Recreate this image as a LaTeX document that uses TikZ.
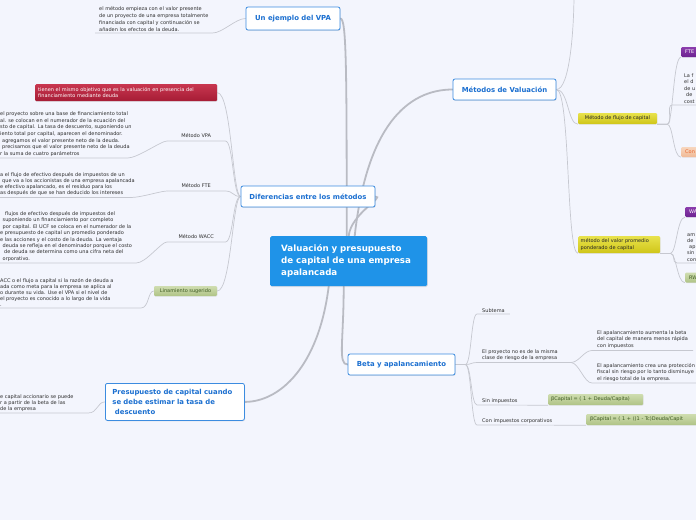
\documentclass[tikz,border=0pt]{standalone}
\usepackage{fontspec}
\setmainfont{DejaVu Sans}
\usetikzlibrary{shadows}
\pgfdeclarelayer{back}
\pgfdeclarelayer{lines}
\pgfsetlayers{back,lines,main}
\definecolor{bg}{HTML}{F3F5FD}
\definecolor{cblue}{HTML}{1F93E8}
\definecolor{tblue}{HTML}{1B6FD0}
\definecolor{bblue}{HTML}{3C8CE0}
\definecolor{lgray}{HTML}{C6C8D0}
\definecolor{mgray}{HTML}{B9BBC3}
\definecolor{txt}{HTML}{2E2E2E}
\definecolor{redA}{HTML}{C8364F}
\definecolor{redB}{HTML}{A61C35}
\definecolor{yelA}{HTML}{E8E24C}
\definecolor{yelB}{HTML}{CFC518}
\definecolor{purA}{HTML}{8B3DAD}
\definecolor{purB}{HTML}{6D2391}
\definecolor{grnA}{HTML}{CFDDB0}
\definecolor{grnB}{HTML}{AFC386}
\definecolor{grnT}{HTML}{3E5A22}
\definecolor{orA}{HTML}{F7D6BE}
\definecolor{orB}{HTML}{F0B996}
\definecolor{orT}{HTML}{E8642A}
\tikzset{
  leaf/.style={font=\fontsize{5.0}{#1}\selectfont, text=txt, align=left, inner xsep=4pt, inner ysep=1.5pt},
  leaf/.default=6.5,
  conn/.style={draw=lgray, line width=0.7pt},
  mainconn/.style={draw=mgray, line width=1.8pt, line cap=round},
  topic/.style={draw=bblue, line width=0.8pt, fill=white, rounded corners=2pt, text=tblue,
    font=\fontsize{6.9}{10}\selectfont\bfseries, inner sep=0pt,
    drop shadow={opacity=0.18, shadow xshift=0.6pt, shadow yshift=-0.9pt}},
  central/.style={fill=cblue, rounded corners=1.5pt, text=white,
    font=\fontsize{8.7}{12}\selectfont\bfseries, align=left, inner xsep=11pt, inner ysep=0pt,
    drop shadow={opacity=0.2, shadow xshift=0.6pt, shadow yshift=-0.9pt}},
  tag/.style={rounded corners=1.2pt, font=\fontsize{5.0}{6.5}\selectfont, inner xsep=4pt, inner ysep=0pt,
    drop shadow={opacity=0.15, shadow xshift=0.4pt, shadow yshift=-0.6pt}},
  redtag/.style={tag, top color=redA, bottom color=redB, text=white},
  yeltag/.style={tag, top color=yelA, bottom color=yelB, text=black!85},
  purtag/.style={tag, top color=purA, bottom color=purB, text=white},
  grntag/.style={tag, top color=grnA, bottom color=grnB, text=grnT},
  ortag/.style={tag, top color=orA, bottom color=orB, text=orT},
}
\begin{document}
\begin{tikzpicture}[x=1pt,y=-1pt]
\useasboundingbox (0,0) rectangle (696,520);
\begin{pgfonlayer}{back}
\fill[bg] (0,0) rectangle (696,520);
\end{pgfonlayer}

% ---------- central and topics
\node[central, anchor=north west, text width=135pt, minimum height=50pt] (c) at (270,236)
  {Valuación y presupuesto\\de capital de una empresa\\apalancada};
\node[topic, minimum width=94pt, minimum height=23pt] (vpa) at (293,18.5) {Un ejemplo del VPA};
\node[topic, minimum width=134pt, minimum height=21pt] (dif) at (308,196.5) {Diferencias entre los métodos};
\node[topic, minimum width=103pt, minimum height=21pt] (met) at (504.5,89.5) {Métodos de Valuación};
\node[topic, anchor=north west, text width=125pt, align=left, inner xsep=7pt, minimum height=37pt] (pres) at (105,383)
  {Presupuesto de capital cuando\\se debe estimar la tasa de\\\hspace*{2.5pt}descuento};
\node[topic, minimum width=107pt, minimum height=21pt] (beta) at (401.5,364.5) {Beta y apalancamiento};

% ---------- Un ejemplo del VPA
\node[leaf=6.8, anchor=south west] (t1) at (95,33)
  {el método empieza con el valor presente\\de un proyecto de una empresa totalmente\\financiada con capital y continuación se\\añaden los efectos de la deuda.};

% ---------- Diferencias entre los métodos
\node[redtag, anchor=north west, text width=176pt, inner xsep=3pt, align=left, minimum height=17pt] (red) at (35,84)
  {tienen el mismo objetivo que es la valuación en presencia del\\financiamiento mediante deuda};
\node[leaf, anchor=south west, align=center, minimum width=58pt, inner ysep=3pt] (mvpa) at (167,141) {Método VPA};
\node[leaf, anchor=south west, align=center, minimum width=58pt, inner ysep=3pt] (mfte) at (167,191) {Método FTE};
\node[leaf, anchor=south west, align=center, minimum width=58pt, inner ysep=3pt] (mwacc) at (167,242) {Método WACC};
\node[grntag, minimum width=63pt, minimum height=10pt, inner xsep=2pt] (lin) at (185.5,291) {Linamiento sugerido};

\node[leaf=6.6, anchor=south west] (tvpa) at (-4,158)
  {el proyecto sobre una base de financiamiento total\\al. se colocan en el numerador de la ecuación del\\sto de capital. La tasa de descuento, suponiendo un\\iento total por capital, aparecen el denominador.\\\hspace*{2pt}agregamos el valor presente neto de la deuda.\\\hspace*{2pt}precisamos que el valor presente neto de la deuda\\r la suma de cuatro parámetros};
\node[leaf=6.2, anchor=south west] (tfte) at (-4,197.5)
  {a el flujo de efectivo después de impuestos de un\\\hspace*{2pt}que va a los accionistas de una empresa apalancada\\e efectivo apalancado, es el residuo para los\\as después de que se han deducido los intereses};
\node[leaf=6.4, anchor=south west] (twacc) at (-4,263)
  {\hspace*{5pt}flujos de efectivo después de impuestos del\\\hspace*{2.5pt}suponiendo un financiamiento por completo\\\hspace*{2.5pt}por capital. El UCF se coloca en el numerador de la\\e presupuesto de capital un promedio ponderado\\e las acciones y el costo de la deuda. La ventaja\\\hspace*{2.5pt}deuda se refleja en el denominador porque el costo\\\hspace*{4pt}de deuda se determina como una cifra neta del\\\hspace*{2.5pt}orporativo.};
\node[leaf=5.9, anchor=south west] (tlin) at (-4,308)
  {ACC o el flujo a capital si la razón de deuda a\\ada como meta para la empresa se aplica al\\o durante su vida. Use el VPA si el nivel de\\el proyecto es conocido a lo largo de la vida\\.};

% ---------- Presupuesto
\node[leaf=5.9, anchor=south west] (tpres) at (-4,413)
  {e capital accionario se puede\\r a partir de la beta de las\\de la empresa};

% ---------- Métodos de Valuación
\coordinate (offtop) at (574,-6);
\node[yeltag, minimum width=79pt, minimum height=11pt, inner xsep=2pt] (y1) at (617.5,118.5) {Método de flujo de capital};
\node[yeltag, anchor=north west, text width=77pt, inner xsep=2.5pt, align=left, minimum height=17pt] (y2) at (578,236)
  {método del valor promedio\\ponderado de capital};
\node[purtag, anchor=west, minimum height=10pt, minimum width=30pt, text width=22pt, align=left] (fte) at (681,52) {FTE};
\node[leaf, anchor=south west] (tlaf) at (680,105) {La f\\el d\\de u\\\hspace*{2pt}de\\cost};
\node[ortag, anchor=west, minimum height=10pt, minimum width=30pt, text width=22pt, align=left] (con) at (681,152) {Con};
\node[purtag, anchor=west, minimum height=10pt, minimum width=30pt, text width=22pt, align=left] (wa) at (685,212) {WA};
\node[leaf=6.3, anchor=south west] (tam) at (683,263) {am\\de\\\hspace*{2pt}ap\\sin\\con};
\node[grntag, anchor=west, minimum height=10pt, minimum width=30pt, text width=22pt, align=left] (rw) at (685,277.5) {RW};

% ---------- Beta y apalancamiento
\node[leaf, anchor=south west, inner xsep=5pt] (sub) at (477,314) {Subtema};
\node[leaf=6.6, anchor=south west, inner xsep=5pt] (tproj) at (477,362.5)
  {El proyecto no es de la misma\\clase de riesgo de la empresa};
\node[leaf=6.8, anchor=south west, inner xsep=5pt] (tlev1) at (592,350.5)
  {El apalancamiento aumenta la beta\\del capital de manera menos rápida\\con impuestos};
\node[leaf=6.6, anchor=south west, inner xsep=5pt] (tlev2) at (592,383)
  {El apalancamiento crea una protección\\fiscal sin riesgo por lo tanto disminuye\\el riesgo total de la empresa.};
\node[grntag, anchor=west, text width=89pt, inner xsep=3pt, align=left, minimum height=11pt] (f1) at (548,399.5)
  {βCapital = ( 1 + Deuda/Capita)};
\node[grntag, anchor=west, text width=140pt, align=left, minimum height=11pt] (f2) at (586,419.5)
  {βCapital = ( 1 + ((1 - Tc)Deuda/Capit};
\node[leaf, anchor=south west, inner xsep=5pt] (sin) at (477,405) {Sin impuestos};
\node[leaf, anchor=south west, inner xsep=5pt] (cimp) at (477,425) {Con impuestos corporativos};

\begin{pgfonlayer}{lines}
% ---------- main connectors
\draw[mainconn] ([xshift=-2pt]c.north) .. controls +(0,-170) and +(6,0) .. (vpa.east);
\draw[mainconn] (c.north) .. controls +(2,-22) and +(10,0) .. (dif.east);
\draw[mainconn] ([xshift=6pt]c.north) .. controls +(12,-110) and +(-45,0) .. (met.west);
\draw[mainconn] ([xshift=-5pt]c.south) .. controls +(0,55) and +(-10,0) .. (beta.west);
\draw[mainconn] ([xshift=-20pt]c.south) .. controls +(-10,80) and +(35,0) .. (pres.east);

% ---------- secondary connectors
\draw[conn] (t1.south west) -- (t1.south east) .. controls +(10,0) and +(-10,0) .. (vpa.west);

\draw[conn] (red.east) .. controls +(14,0) and +(-8,0) .. (dif.west);
\draw[conn] (mvpa.south west) -- (mvpa.south east) .. controls +(8,0) and +(-8,0) .. (dif.west);
\draw[conn] (mfte.south west) -- (mfte.south east) .. controls +(8,0) and +(-8,0) .. (dif.west);
\draw[conn] (mwacc.south west) -- (mwacc.south east) .. controls +(8,0) and +(-8,0) .. (dif.west);
\draw[conn] (lin.east) .. controls +(14,0) and +(-8,0) .. (dif.west);
\draw[conn] (tvpa.south west) -- ([xshift=-8pt]tvpa.south east) .. controls +(10,0) and +(-6,0) .. (mvpa.south west);
\draw[conn] (tfte.south west) -- ([xshift=-8pt]tfte.south east) .. controls +(10,0) and +(-6,0) .. (mfte.south west);
\draw[conn] (twacc.south west) -- (twacc.south east) .. controls +(10,0) and +(-6,0) .. (mwacc.south west);
\draw[conn] (tlin.south west) -- ([xshift=145pt]tlin.south west) .. controls +(8,0) and +(-6,0) .. (lin.west);

\draw[conn] (tpres.south west) -- ([xshift=92pt]tpres.south west) .. controls +(10,0) and +(-8,0) .. (pres.west);

\draw[conn] (met.east) .. controls +(14,0) and +(0,30) .. (offtop);
\draw[conn] (met.east) .. controls +(12,0) and +(-10,0) .. (y1.south west);
\draw[conn] (met.east) .. controls +(14,0) and +(-12,0) .. (y2.south west);

\draw[conn] (y1.south east) -- ++(10,0) .. controls +(6,0) and +(-8,0) .. (fte.south west);
\draw[conn] (y1.south east) -- ++(10,0) .. controls +(6,0) and +(-6,0) .. ([xshift=-8pt]tlaf.south west) -- (tlaf.south east);
\draw[conn] (y1.south east) -- ++(10,0) .. controls +(6,0) and +(-8,0) .. (con.south west);

\draw[conn] (y2.south east) -- ++(10,0) .. controls +(6,0) and +(-8,0) .. (wa.south west);
\draw[conn] (y2.south east) -- ++(10,0) .. controls +(6,0) and +(-6,0) .. ([xshift=-6pt]tam.south west) -- (tam.south east);
\draw[conn] (y2.south east) -- ++(10,0) .. controls +(6,0) and +(-8,0) .. (rw.south west);

\draw[conn] (beta.east) -- ++(10,0) .. controls +(6,0) and +(-6,0) .. (sub.south west) -- (sub.south east);
\draw[conn] (beta.east) -- ++(10,0) .. controls +(6,0) and +(-6,0) .. (tproj.south west) -- ([xshift=8pt]tproj.south east);
\draw[conn] (beta.east) -- ++(10,0) .. controls +(6,0) and +(-6,0) .. (sin.south west) -- (f1.south west);
\draw[conn] (beta.east) -- ++(10,0) .. controls +(6,0) and +(-6,0) .. (cimp.south west) -- (f2.south west);
\draw[conn] ([xshift=8pt]tproj.south east) .. controls +(8,0) and +(-8,0) .. (tlev1.south west) -- (tlev1.south east);
\draw[conn] ([xshift=8pt]tproj.south east) .. controls +(8,0) and +(-8,0) .. (tlev2.south west) -- (tlev2.south east);
\end{pgfonlayer}
\end{tikzpicture}
\end{document}
